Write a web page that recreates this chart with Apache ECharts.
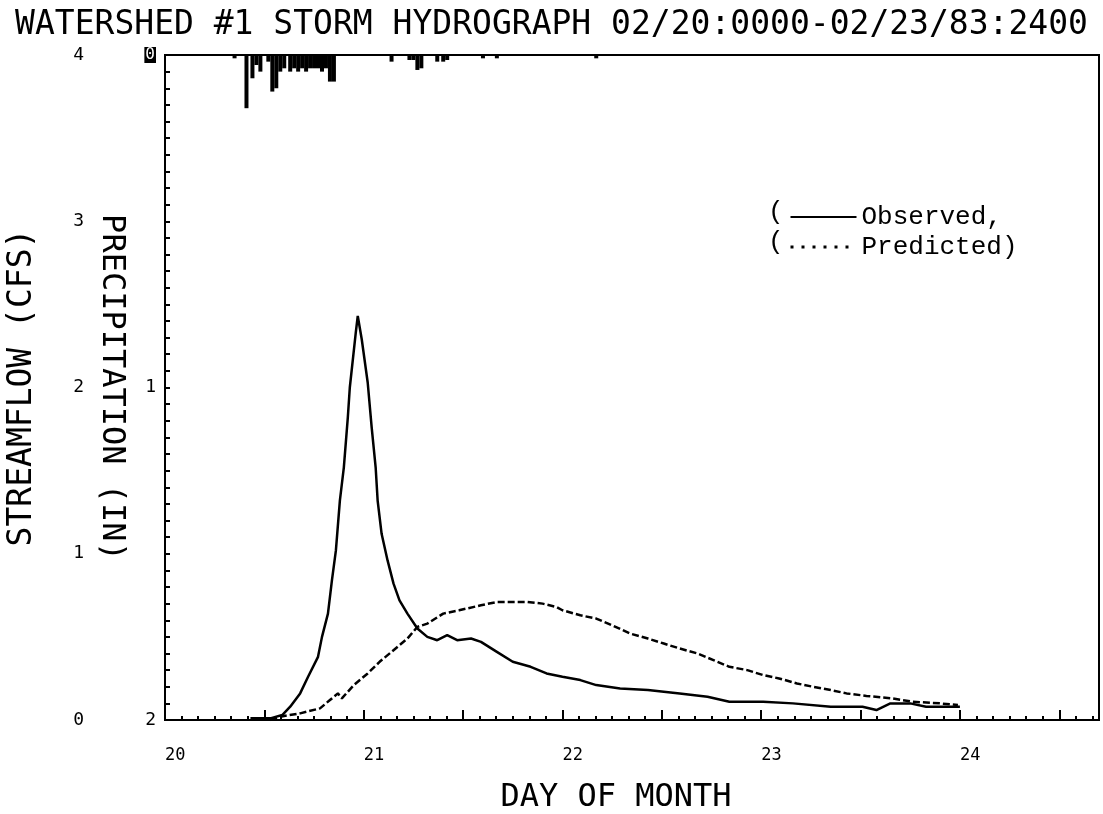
<!DOCTYPE html>
<html>
<head>
<meta charset="utf-8">
<script src="https://cdn.jsdelivr.net/npm/echarts@6/dist/echarts.min.js"></script>
<style>
  html, body { margin: 0; background: #fff; }
  #chart { width: 1103px; height: 814px; }
</style>
</head>
<body>
<div id="chart"></div>
<script>
// streamflow, observed (day of month, cfs)
const obsDay  = [20.43, 20.53, 20.59, 20.63, 20.68, 20.72, 20.77, 20.79, 20.82, 20.84, 20.86, 20.88, 20.90, 20.92, 20.93, 20.96, 20.97, 20.99, 21.02, 21.04, 21.06, 21.07, 21.09, 21.12, 21.15, 21.18, 21.22, 21.27, 21.32, 21.37, 21.42, 21.47, 21.54, 21.59, 21.67, 21.75, 21.84, 21.92, 22.00, 22.09, 22.17, 22.29, 22.43, 22.59, 22.73, 22.84, 23.01, 23.16, 23.35, 23.51, 23.58, 23.65, 23.75, 23.83, 24.00]
const obsFlow = [0.01, 0.01, 0.03, 0.08, 0.16, 0.26, 0.38, 0.50, 0.64, 0.84, 1.02, 1.32, 1.52, 1.82, 2.00, 2.33, 2.43, 2.29, 2.03, 1.76, 1.52, 1.32, 1.12, 0.96, 0.82, 0.72, 0.64, 0.55, 0.50, 0.48, 0.51, 0.48, 0.49, 0.47, 0.41, 0.35, 0.32, 0.28, 0.26, 0.24, 0.21, 0.19, 0.18, 0.16, 0.14, 0.11, 0.11, 0.10, 0.08, 0.08, 0.06, 0.10, 0.10, 0.08, 0.08]

// streamflow, predicted
const predDay  = [20.53, 20.58, 20.68, 20.78, 20.83, 20.87, 20.89, 20.95, 21.02, 21.08, 21.15, 21.22, 21.27, 21.32, 21.40, 21.48, 21.59, 21.67, 21.82, 21.90, 21.97, 22.00, 22.09, 22.17, 22.25, 22.34, 22.43, 22.51, 22.59, 22.68, 22.76, 22.84, 22.93, 23.01, 23.09, 23.18, 23.26, 23.35, 23.43, 23.53, 23.66, 23.76, 23.90, 23.99]
const predFlow = [0.00, 0.02, 0.04, 0.07, 0.12, 0.16, 0.13, 0.21, 0.28, 0.35, 0.42, 0.49, 0.56, 0.58, 0.64, 0.66, 0.69, 0.71, 0.71, 0.70, 0.68, 0.66, 0.63, 0.61, 0.57, 0.52, 0.49, 0.46, 0.43, 0.40, 0.36, 0.32, 0.30, 0.27, 0.25, 0.22, 0.20, 0.18, 0.16, 0.145, 0.13, 0.11, 0.10, 0.09]

// precipitation, half-hour totals (in)
const rainDay = [20.35, 20.41, 20.44, 20.46, 20.48, 20.52, 20.54, 20.56, 20.58, 20.60, 20.63, 20.65, 20.67, 20.69, 20.71, 20.73, 20.75, 20.77, 20.79, 20.81, 20.83, 20.85, 21.14, 21.23, 21.25, 21.27, 21.29, 21.37, 21.40, 21.42, 21.60, 21.67, 22.17]
const rainIn  = [0.01, 0.16, 0.07, 0.03, 0.05, 0.02, 0.11, 0.10, 0.05, 0.04, 0.05, 0.04, 0.05, 0.04, 0.05, 0.04, 0.04, 0.04, 0.05, 0.04, 0.08, 0.08, 0.02, 0.015, 0.015, 0.045, 0.04, 0.02, 0.02, 0.015, 0.01, 0.01, 0.01]

const plotFont = 'DejaVu Sans Mono'
const black = '#000'
const zip = (xs, ys) => xs.map((x, i) => [x, ys[i]])

const chart = echarts.init(document.getElementById('chart'))

const noSymbol = { color: 'transparent', borderWidth: 0, opacity: 0 }

const option = {
  animation: false,
  backgroundColor: '#fff',
  textStyle: { fontFamily: plotFont, color: black },
  title: {
    text: 'WATERSHED #1 STORM HYDROGRAPH 02/20:0000-02/23/83:2400',
    left: 'center',
    top: 4,
    textStyle: { fontFamily: plotFont, fontSize: 33, fontWeight: 'normal', color: black }
  },
  grid: {
    left: 165,
    right: 4,
    top: 55,
    bottom: 94,
    show: true,
    borderColor: black,
    borderWidth: 2,
    outerBoundsMode: 'none'
  },
  legend: {
    orient: 'vertical',
    left: 784,
    top: 199,
    itemWidth: 66,
    itemHeight: 14,
    itemGap: 4,
    data: [
      { name: 'Observed', itemStyle: noSymbol },
      { name: 'Predicted', itemStyle: noSymbol, lineStyle: { type: [3, 8], width: 3 } }
    ],
    formatter: name => name === 'Observed' ? 'Observed,' : 'Predicted)',
    textStyle: { fontFamily: 'Liberation Mono', fontSize: 26, color: black }
  },
  graphic: [
    { type: 'text', left: 768, top: 199, style: { text: '(', fontFamily: 'Liberation Mono', fontSize: 26, fill: black } },
    { type: 'text', left: 768, top: 229, style: { text: '(', fontFamily: 'Liberation Mono', fontSize: 26, fill: black } }
  ],
  xAxis: [{
    type: 'value',
    min: 20,
    max: 24.7,
    interval: 0.5,
    axisLine: { onZero: false, lineStyle: { color: black, width: 2 } },
    axisTick: { inside: true, length: 10, lineStyle: { color: black, width: 2 } },
    axisLabel: {
      formatter: v => Number.isInteger(v) ? String(v) : '',
      align: 'left',
      margin: 27,
      fontFamily: plotFont,
      fontSize: 17,
      color: black
    },
    splitLine: { show: false },
    name: 'DAY OF MONTH',
    nameLocation: 'middle',
    nameGap: 62,
    nameTextStyle: { fontFamily: plotFont, fontSize: 32, color: black, padding: [0, 32, 0, 0] }
  }, {
    // 2-hour minor ticks, in hours
    type: 'value',
    position: 'bottom',
    min: 480,
    max: 592.8,
    interval: 2,
    axisLine: { show: false, onZero: false },
    axisTick: { inside: true, length: 4, lineStyle: { color: black, width: 2 } },
    axisLabel: { show: false },
    splitLine: { show: false }
  }],
  yAxis: [{
    type: 'value',
    position: 'left',
    min: 0,
    max: 4,
    interval: 1,
    axisLine: { show: true, onZero: false, lineStyle: { color: black, width: 2 } },
    axisTick: { show: true, inside: true, length: 5, lineStyle: { color: black, width: 2 } },
    minorTick: { show: true, splitNumber: 10, length: 5, lineStyle: { color: black, width: 2 } },
    axisLabel: { margin: 81, fontFamily: plotFont, fontSize: 18, color: black },
    splitLine: { show: false },
    name: 'STREAMFLOW (CFS)',
    nameLocation: 'middle',
    nameGap: 126,
    nameTextStyle: { fontFamily: plotFont, fontSize: 33, color: black }
  }, {
    type: 'value',
    position: 'left',
    min: 0,
    max: 2,
    interval: 1,
    inverse: true,
    axisLine: { show: false, onZero: false },
    axisTick: { show: false },
    axisLabel: {
      margin: 9,
      fontFamily: plotFont,
      fontSize: 18,
      color: black,
      formatter: v => v === 0 ? '{box|0}' : String(v),
      rich: { box: { backgroundColor: black, color: '#fff', fontFamily: plotFont, fontSize: 16, padding: [0, 1] } }
    },
    splitLine: { show: false },
    name: 'PRECIPITATION (IN)',
    nameLocation: 'middle',
    nameRotate: -90,
    nameGap: 38,
    nameTextStyle: { fontFamily: plotFont, fontSize: 32, color: black }
  }],
  series: [{
    name: 'Observed',
    type: 'line',
    xAxisIndex: 0,
    yAxisIndex: 0,
    data: zip(obsDay, obsFlow),
    symbol: 'none',
    lineStyle: { color: black, width: 2.5 },
    itemStyle: { color: black },
    z: 3
  }, {
    name: 'Predicted',
    type: 'line',
    xAxisIndex: 0,
    yAxisIndex: 0,
    data: zip(predDay, predFlow),
    symbol: 'none',
    lineStyle: { color: black, width: 2.5, type: [7, 3] },
    itemStyle: { color: black },
    z: 3
  }, {
    name: 'Precipitation',
    type: 'bar',
    xAxisIndex: 0,
    yAxisIndex: 1,
    data: zip(rainDay, rainIn),
    barWidth: 4,
    itemStyle: { color: black }
  }]
}

chart.setOption(option)
</script>
</body>
</html>
